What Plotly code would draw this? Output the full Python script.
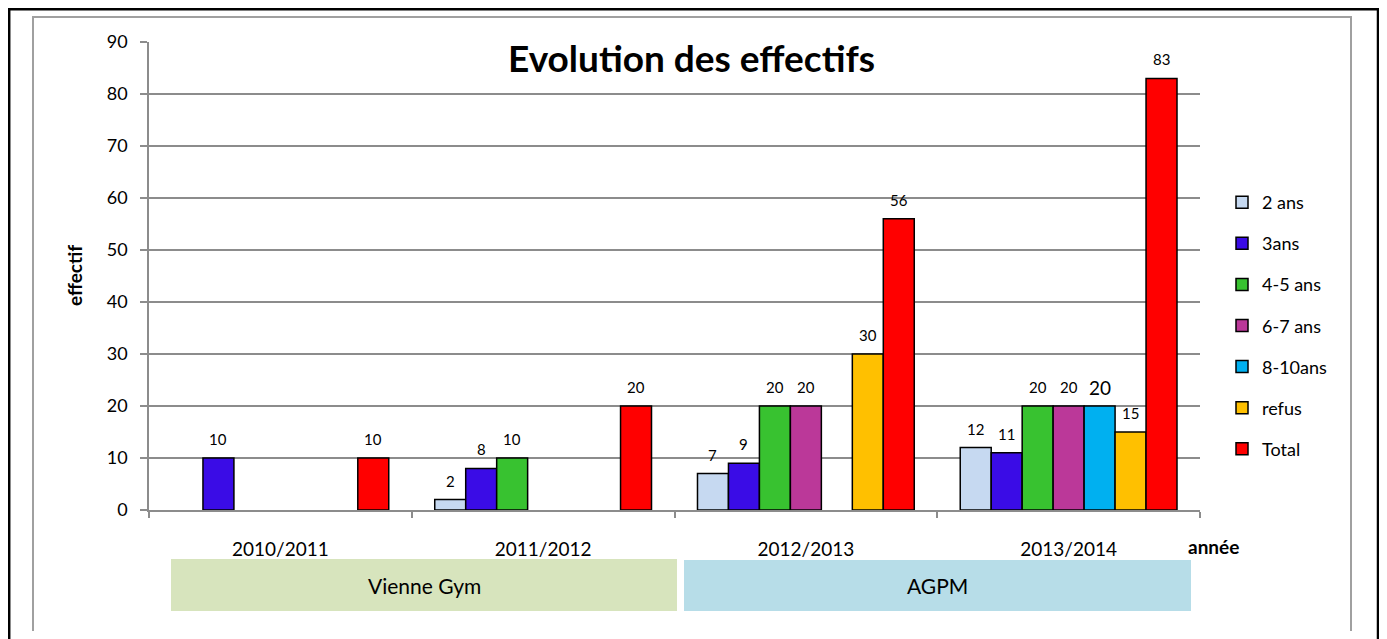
import plotly.graph_objects as go

# ---------------- data ----------------
years = ["2010/2011", "2011/2012", "2012/2013", "2013/2014"]
series_names = ["2 ans", "3ans", "4-5 ans", "6-7 ans", "8-10ans", "refus", "Total"]
v_2ans = [None, 2, 7, 12]
v_3ans = [10, 8, 9, 11]
v_45ans = [None, 10, 20, 20]
v_67ans = [None, None, 20, 20]
v_810ans = [None, None, None, 20]
v_refus = [None, None, 30, 15]
v_total = [10, 20, 56, 83]
series_values = [v_2ans, v_3ans, v_45ans, v_67ans, v_810ans, v_refus, v_total]
colors = ["#C6D9F1", "#3A0CE6", "#38C230", "#BB3899", "#00B0F0", "#FFC000", "#FF0000"]
clubs = ["Vienne Gym", "AGPM"]

FONT = "Lato"
W, H = 1387, 639
OFF = 8  # page body margin
# target plot area in screen pixels
SX0, SX1, SY0, SY1 = 149, 1200, 42, 510
ML, MT = SX0 - OFF, SY0 - OFF
MR, MB = W - (SX1 - OFF), H - (SY1 - OFF)
PW, PH = SX1 - SX0, SY1 - SY0


def px(x):
    return (x - SX0) / PW


def py(y):
    return (SY1 - y) / PH


BARGAP = 0.175
N = len(series_names)

fig = go.Figure()
for name, vals, col in zip(series_names, series_values, colors):
    fig.add_trace(go.Bar(
        name=name, x=years, y=vals, legendgroup=name,
        marker=dict(color=col, line=dict(color="black", width=1.5)),
        hoverinfo="x+y+name",
    ))

# data labels above bars (positions from the category scale)
annotations = []
w = (1 - BARGAP) / N
for k, (name, vals) in enumerate(zip(series_names, series_values)):
    off = -(1 - BARGAP) / 2 + (k + 0.5) * w
    for i, v in enumerate(vals):
        if v is None:
            continue
        big = name == "8-10ans"
        annotations.append(dict(
            x=i + off, y=v, xref="x", yref="y", text=str(v), showarrow=False,
            yanchor="middle", yshift=19,
            font=dict(family=FONT, size=19 if big else 15, color="black"),
        ))

annotations += [
    dict(x=px(691), y=py(58), xref="paper", yref="paper", text="<b>Evolution des effectifs</b>",
         showarrow=False, xanchor="center", yanchor="middle",
         font=dict(family=FONT, size=37, color="black")),
    dict(x=px(74), y=py(276), xref="paper", yref="paper", text="<b>effectif</b>",
         showarrow=False, xanchor="center", yanchor="middle", textangle=-90,
         font=dict(family=FONT, size=19, color="black")),
    dict(x=px(1213), y=py(546), xref="paper", yref="paper", text="<b>année</b>",
         showarrow=False, xanchor="center", yanchor="middle",
         font=dict(family=FONT, size=19, color="black")),
    dict(x=px(424), y=py(585), xref="paper", yref="paper", text=clubs[0],
         showarrow=False, xanchor="center", yanchor="middle",
         font=dict(family=FONT, size=21, color="black")),
    dict(x=px(937), y=py(585), xref="paper", yref="paper", text=clubs[1],
         showarrow=False, xanchor="center", yanchor="middle",
         font=dict(family=FONT, size=21, color="black")),
]

shapes = [
    # outer black frame (kept inside the drawable page area)
    dict(type="path", xref="paper", yref="paper", layer="above",
         path=f"M {px(9.2)},{py(700)} L {px(9.2)},{py(9.2)} L {px(1378)},{py(9.2)} L {px(1378)},{py(700)}",
         line=dict(color="black", width=2.5)),
    # inner grey frame
    dict(type="path", xref="paper", yref="paper", layer="above",
         path=f"M {px(33)},{py(631)} L {px(33)},{py(17)} L {px(1351)},{py(17)} L {px(1351)},{py(631)}",
         line=dict(color="#A0A0A0", width=2)),
    # club boxes
    dict(type="rect", xref="paper", yref="paper", x0=px(171), x1=px(677), y0=py(611), y1=py(559),
         fillcolor="#D7E4BD", line=dict(width=0), layer="below"),
    dict(type="rect", xref="paper", yref="paper", x0=px(684), x1=px(1191), y0=py(611), y1=py(560),
         fillcolor="#B7DDE8", line=dict(width=0), layer="below"),
]

fig.update_layout(
    width=W, height=H,
    margin=dict(l=ML, r=MR, t=MT, b=MB, pad=0),
    paper_bgcolor="white", plot_bgcolor="white",
    barmode="group", bargap=BARGAP, bargroupgap=0,
    font=dict(family=FONT, color="black"),
    showlegend=True,
    legend=dict(x=px(1222), y=py(184), xanchor="left", yanchor="top",
                traceorder="grouped", tracegroupgap=14.7,
                font=dict(family=FONT, size=18, color="black"),
                bgcolor="rgba(0,0,0,0)"),
    xaxis=dict(type="category", showline=True, linecolor="#8C8C8C", linewidth=1.5,
               ticks="outside", tickson="boundaries", ticklen=6, tickcolor="#8C8C8C", tickwidth=1.5,
               showgrid=False, tickfont=dict(family=FONT, size=19, color="black"),
               ticklabelstandoff=21, fixedrange=True),
    yaxis=dict(range=[0, 90], dtick=10, showgrid=True, gridcolor="#8C8C8C", gridwidth=1.5,
               showline=True, linecolor="#8C8C8C", linewidth=1.5, zeroline=False,
               ticks="outside", ticklen=7, tickcolor="#8C8C8C", tickwidth=1.5,
               tickfont=dict(family=FONT, size=18, color="black"),
               ticklabelstandoff=9, fixedrange=True),
    annotations=annotations,
    shapes=shapes,
)

fig.write_html("out.html")
